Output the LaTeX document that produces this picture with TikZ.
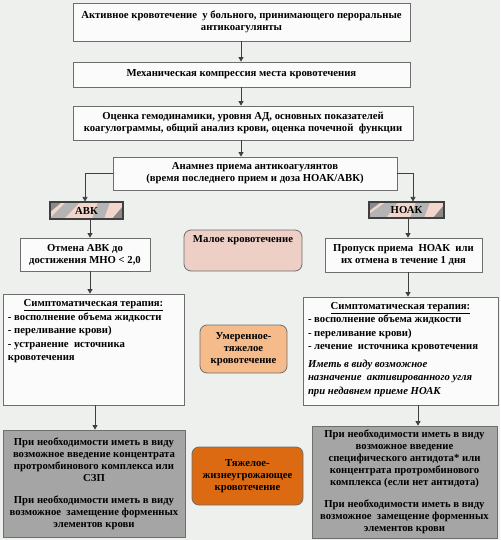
\documentclass[tikz,border=0pt]{standalone}
\usepackage{fontspec}
\setmainfont{Liberation Serif}
\usetikzlibrary{arrows.meta,calc}
\definecolor{bgc}{HTML}{EEF0ED}
\definecolor{boxc}{HTML}{FBFBFB}
\definecolor{bordc}{HTML}{6E6E6E}
\definecolor{arrc}{HTML}{3F3F3F}
\definecolor{pinkc}{HTML}{EDCFC6}
\definecolor{bandpink}{HTML}{F2D6CC}
\definecolor{bandgray}{HTML}{B4B4B4}
\definecolor{banddark}{HTML}{8A8A8A}
\definecolor{lorange}{HTML}{F6BB8A}
\definecolor{dorange}{HTML}{DB6A12}
\definecolor{grayc}{HTML}{A5A5A5}
\tikzset{
  box/.style={draw=bordc, fill=boxc, line width=0.8pt, inner sep=4pt, align=center,
    font=\fontsize{10.7}{12}\selectfont\bfseries},
  rbox/.style={box, rounded corners=7pt},
  tagbox/.style={draw=arrc, line width=1.1pt, inner sep=0pt, font=\fontsize{10.7}{12}\selectfont\bfseries},
  arr/.style={draw=arrc, line width=0.7pt, -{Triangle[length=4.5pt,width=5pt]}},
}
\begin{document}
\begin{tikzpicture}[x=1pt,y=-1pt]
\fill[bgc] (0,0) rectangle (500,540);
\useasboundingbox (0,0) rectangle (500,540);

% decorative gradient fills of the tag boxes
\begin{scope}
  \clip (50,202) rectangle (123,219);
  \fill[bandpink] (50,202) rectangle (123,219);
  \fill[banddark] (50,202) -- (62,202) -- (50,212) -- cycle;
  \fill[bandgray] (66,202) -- (80,202) -- (64,219) -- (50,219) -- (50,218) -- cycle;
  \fill[bandgray] (98,202) -- (110,202) -- (104,219) -- (92,219) -- cycle;
  \fill[banddark] (123,206) -- (123,219) -- (112,219) -- cycle;
\end{scope}
\begin{scope}
  \clip (369,202) rectangle (444,218);
  \fill[bandpink] (369,202) rectangle (444,218);
  \fill[banddark] (369,202) -- (381,202) -- (369,211) -- cycle;
  \fill[bandgray] (369,214) -- (386,202) -- (398,202) -- (386,218) -- (369,218) -- cycle;
  \fill[bandgray] (416,202) -- (430,202) -- (424,218) -- (410,218) -- cycle;
  \fill[banddark] (444,205) -- (444,218) -- (433,218) -- cycle;
\end{scope}

\node[box, minimum width=337pt, minimum height=38pt] (top) at (241.5,22)
  {Активное кровотечение \ у больного, принимающего пероральные\\антикоагулянты};
\node[box, minimum width=337pt, minimum height=25pt] (mech) at (241.5,74.5)
  {Механическая компрессия места кровотечения};
\node[box, minimum width=340pt, minimum height=34pt] (assess) at (243,123)
  {Оценка гемодинамики, уровня АД, основных показателей\\коагулограммы, общий анализ крови, оценка почечной \ функции};
\node[box, minimum width=284pt, minimum height=33pt] (anam) at (255,173.5)
  {Анамнез приема антикоагулянтов\\(время последнего прием и доза НОАК/АВК)};

\node[tagbox, minimum width=73pt, minimum height=17pt] (avk) at (86.5,210.5) {АВК};
\node[tagbox, minimum width=75pt, minimum height=16pt] (noak) at (406.5,210) {НОАК};

\node[box, minimum width=130pt, minimum height=33pt] (otm) at (85,254.5)
  {Отмена АВК до\\достижения МНО < 2,0};
\node[box, minimum width=157pt, minimum height=34pt] (prop) at (403.5,255)
  {Пропуск приема \ НОАК \ или\\их отмена в течение 1 дня};
\node[rbox, fill=pinkc, minimum width=118pt, minimum height=41pt] (mal) at (243,250.5)
  {\parbox[t][30pt][t]{110pt}{\centering Малое кровотечение}};

\node[box, minimum width=181pt, minimum height=111pt, inner sep=5pt, align=left] (sympL) at (93.5,349.5)
  {\parbox[t][100pt][t]{171pt}{\fontsize{10.7}{13.5}\selectfont
   \centering\underline{Симптоматическая терапия:}\par
   \raggedright
   - восполнение объема жидкости\par
   - переливание крови)\par
   - устранение \ источника\par
   кровотечения\par}};
\node[rbox, fill=lorange, minimum width=87pt, minimum height=48pt] (mod) at (243.5,349)
  {Умеренное-\\тяжелое\\кровотечение};
\node[box, minimum width=195pt, minimum height=108pt, inner sep=5pt, align=left] (sympR) at (400.5,351)
  {\parbox[t][98pt][t]{185pt}{\fontsize{10.7}{13.5}\selectfont
   \centering\underline{Симптоматическая терапия:}\par
   \raggedright
   - восполнение объема жидкости\par
   - переливание крови)\par
   - лечение \ источника кровотечения\par
   \vspace{4pt}\itshape
   Иметь в виду возможное\par
   назначение \ активированного угля\par
   при недавнем приеме НОАК\par}};

\node[box, fill=grayc, minimum width=182pt, minimum height=107pt] (grayL) at (94,483.5)
  {При необходимости иметь в виду\\возможное введение концентрата\\протромбинового комплекса или\\СЗП\\[10pt]При необходимости иметь в виду\\возможное \ замещение форменных\\элементов крови};
\node[rbox, fill=dorange, minimum width=111pt, minimum height=58pt] (sev) at (247.5,476)
  {Тяжелое-\\жизнеугрожающее\\кровотечение};
\node[box, fill=grayc, minimum width=185pt, minimum height=110pt] (grayR) at (404.5,482)
  {При необходимости иметь в виду\\возможное введение\\специфического антидота* или\\концентрата протромбинового\\комплекса (если нет антидота)\\[10pt]При необходимости иметь в виду\\возможное \ замещение форменных\\элементов крови};

% connector columns
\coordinate (cC) at (241,0);
\coordinate (cL1) at (90,0);
\coordinate (cL2) at (95,0);
\coordinate (cR1) at (408,0);
\coordinate (cR2) at (418,0);
\coordinate (cAL) at (85,0);
\coordinate (cAR) at (413,0);

\draw[arr] (top.south -| cC) -- (mech.north -| cC);
\draw[arr] (mech.south -| cC) -- (assess.north -| cC);
\draw[arr] (assess.south -| cC) -- (anam.north -| cC);
\draw[arr] (anam.west) -| (avk.north -| cAL);
\draw[arr] (anam.east) -| (noak.north -| cAR);
\draw[arr] (avk.south -| cL1) -- (otm.north -| cL1);
\draw[arr] (otm.south -| cL1) -- (sympL.north -| cL1);
\draw[arr] (sympL.south -| cL2) -- (grayL.north -| cL2);
\draw[arr] (noak.south -| cR1) -- (prop.north -| cR1);
\draw[arr] (prop.south -| cR1) -- (sympR.north -| cR1);
\draw[arr] (sympR.south -| cR2) -- (grayR.north -| cR2);
\end{tikzpicture}
\end{document}
